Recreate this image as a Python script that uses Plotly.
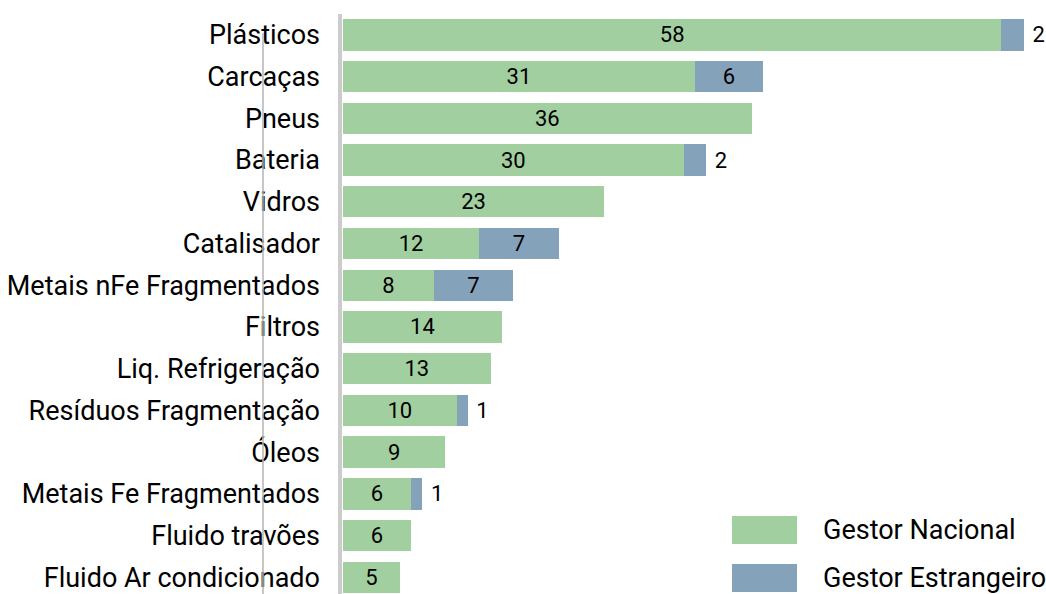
import plotly.graph_objects as go

# Waste streams and quantities handled by national vs foreign operators
categorias = [
    "Plásticos", "Carcaças", "Pneus", "Bateria", "Vidros", "Catalisador",
    "Metais nFe Fragmentados", "Filtros", "Liq. Refrigeração",
    "Resíduos Fragmentação", "Óleos", "Metais Fe Fragmentados",
    "Fluido travões", "Fluido Ar condicionado",
]
gestor_nacional = [58, 31, 36, 30, 23, 12, 8, 14, 13, 10, 9, 6, 6, 5]
gestor_estrangeiro = [2, 6, 0, 2, 0, 7, 7, 0, 0, 1, 0, 1, 0, 0]
series_nomes = ["Gestor Nacional", "Gestor Estrangeiro"]

VERDE = "#a2cf9f"
AZUL = "#85a2bb"
FONTE = "Roboto"

# small foreign segments get their value printed beside the bar
pos_estr = ["outside" if v <= 2 else "inside" for v in gestor_estrangeiro]
txt_estr = [("" if v == 0 else (" " + str(v) if v <= 2 else str(v)))
            for v in gestor_estrangeiro]

lbl_font = dict(family=FONTE, size=22, color="black")

fig = go.Figure()
fig.add_trace(go.Bar(
    y=categorias, x=gestor_nacional, orientation="h", name=series_nomes[0],
    marker=dict(color=VERDE, line=dict(width=0)),
    text=[str(v) for v in gestor_nacional], textposition="inside",
    insidetextanchor="middle",
    textfont=lbl_font,
    constraintext="none",
))
fig.add_trace(go.Bar(
    y=categorias, x=gestor_estrangeiro, orientation="h", name=series_nomes[1],
    marker=dict(color=AZUL, line=dict(width=0)),
    text=txt_estr, textposition=pos_estr, insidetextanchor="middle",
    textfont=lbl_font, outsidetextfont=lbl_font, insidetextfont=lbl_font,
    constraintext="none", cliponaxis=False,
))

# axis baseline and thin guide line
fig.add_shape(type="line", xref="paper", yref="paper",
              x0=-0.0044, x1=-0.0044, y0=0, y1=1.0,
              line=dict(color="#cccccc", width=4))
fig.add_shape(type="line", xref="paper", yref="paper",
              x0=-0.1175, x1=-0.1175, y0=-0.02, y1=0.967,
              line=dict(color="#b4b4b4", width=1.5))

# legend drawn as swatches with labels
legend_items = [(series_nomes[0], VERDE, 530), (series_nomes[1], AZUL, 578)]
W, H, L, T = 681, 580, 343, 14
for nome, cor, yc in legend_items:
    y0 = 1 - (yc + 14 - T) / H
    y1 = 1 - (yc - 14 - T) / H
    fig.add_shape(type="rect", xref="paper", yref="paper",
                  x0=(732 - L) / W, x1=(797 - L) / W, y0=y0, y1=y1,
                  fillcolor=cor, line=dict(width=0))
    fig.add_annotation(xref="paper", yref="paper",
                       x=(821 - L) / W, y=1 - (yc - T) / H,
                       text=nome, showarrow=False, xanchor="left", yanchor="middle",
                       font=dict(family=FONTE, size=27, color="black"))

fig.update_layout(
    barmode="stack", bargap=0.25, showlegend=False,
    width=1046, height=594,
    margin=dict(l=L, r=22, t=T, b=0),
    paper_bgcolor="white", plot_bgcolor="white",
    font=dict(family=FONTE, color="black"),
    uniformtext=dict(mode=False),
)
fig.update_xaxes(range=[0, 60], visible=False, showgrid=False, zeroline=False)
fig.update_yaxes(
    categoryorder="array", categoryarray=categorias,
    range=[13.4, -0.5], showgrid=False, zeroline=False, showline=False,
    ticks="", ticklabelstandoff=22,
    tickfont=dict(family=FONTE, size=27, color="black"),
)

fig.write_html("out.html")
